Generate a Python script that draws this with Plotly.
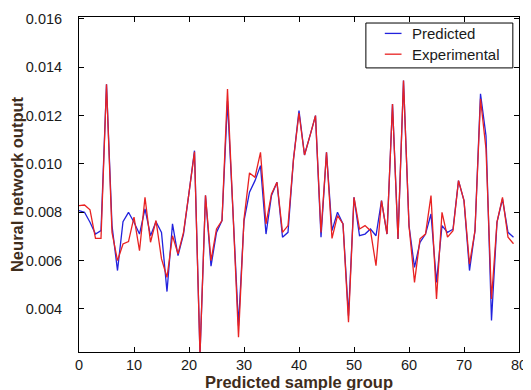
import plotly.graph_objects as go

sample_index = list(range(80))

predicted = [
    0.00807, 0.00800, 0.00759, 0.00710, 0.00724, 0.01330, 0.00745, 0.00559, 0.00761, 0.00800,
    0.00759, 0.00710, 0.00814, 0.00703, 0.00761, 0.00717, 0.00472, 0.00752, 0.00621, 0.00710,
    0.00880, 0.01055, 0.00210, 0.00869, 0.00577, 0.00717, 0.00766, 0.01260, 0.00800, 0.00331,
    0.00765, 0.00883, 0.00931, 0.00993, 0.00710, 0.00870, 0.00924, 0.00697, 0.00717, 0.01020,
    0.01221, 0.01037, 0.01117, 0.01200, 0.00697, 0.01048, 0.00724, 0.00800, 0.00752, 0.00372,
    0.00862, 0.00703, 0.00710, 0.00731, 0.00703, 0.00848, 0.00710, 0.01248, 0.00690, 0.01345,
    0.00745, 0.00572, 0.00676, 0.00710, 0.00793, 0.00510, 0.00745, 0.00717, 0.00730, 0.00931,
    0.00848, 0.00559, 0.00724, 0.01290, 0.01117, 0.00352, 0.00759, 0.00855, 0.00717, 0.00697,
]

experimental = [
    0.00828, 0.00830, 0.00810, 0.00692, 0.00692, 0.01330, 0.00717, 0.00600, 0.00669, 0.00679,
    0.00780, 0.00641, 0.00862, 0.00676, 0.00766, 0.00607, 0.00531, 0.00703, 0.00628, 0.00717,
    0.00880, 0.01050, 0.00210, 0.00870, 0.00600, 0.00731, 0.00766, 0.01310, 0.00800, 0.00283,
    0.00772, 0.00963, 0.00945, 0.01048, 0.00752, 0.00876, 0.00924, 0.00717, 0.00745, 0.01020,
    0.01210, 0.01037, 0.01117, 0.01200, 0.00717, 0.01048, 0.00692, 0.00786, 0.00752, 0.00345,
    0.00862, 0.00731, 0.00745, 0.00724, 0.00579, 0.00848, 0.00710, 0.01248, 0.00690, 0.01345,
    0.00745, 0.00510, 0.00690, 0.00710, 0.00869, 0.00441, 0.00800, 0.00697, 0.00724, 0.00931,
    0.00848, 0.00586, 0.00724, 0.01270, 0.01062, 0.00441, 0.00759, 0.00862, 0.00697, 0.00670,
]

series_names = ["Predicted", "Experimental"]
series_colors = ["#2222dd", "#e82222"]

x_ticks = [0, 10, 20, 30, 40, 50, 60, 70, 80]
y_ticks = [0.004, 0.006, 0.008, 0.010, 0.012, 0.014, 0.016]
y_tick_labels = ["0.004", "0.006", "0.008", "0.010", "0.012", "0.014", "0.016"]

fig = go.Figure()
for name, values, color in zip(series_names, [predicted, experimental], series_colors):
    fig.add_trace(go.Scatter(x=sample_index, y=values, mode="lines", name=name,
                             showlegend=False, line=dict(color=color, width=1.3)))

font_family = "Liberation Sans"
title_color = "#3f2d1c"
text_color = "#1a1a1a"

# legend box drawn in paper coordinates (matplotlib-style legend)
legend_box = dict(x0=0.652, x1=0.986, y0=0.848, y1=0.982)
legend_rows_y = [0.951, 0.889]
legend_line_x = (0.695, 0.733)
legend_text_x = 0.752

shapes = [dict(type="rect", xref="paper", yref="paper", line=dict(color="black", width=1),
               fillcolor="white", layer="above", **legend_box)]
annotations = []
for name, color, ry in zip(series_names, series_colors, legend_rows_y):
    shapes.append(dict(type="line", xref="paper", yref="paper", layer="above",
                       x0=legend_line_x[0], x1=legend_line_x[1], y0=ry, y1=ry,
                       line=dict(color=color, width=1.3)))
    annotations.append(dict(xref="paper", yref="paper", x=legend_text_x, y=ry,
                            xanchor="left", yanchor="middle", text=name, showarrow=False,
                            font=dict(family=font_family, size=15, color=text_color)))

# the page body adds an 8px offset, so the margins compensate for it
fig.update_layout(
    width=531, height=390,
    margin=dict(l=71, r=20, t=9, b=46),
    paper_bgcolor="white", plot_bgcolor="white",
    font=dict(family=font_family, size=14.5, color=text_color),
    shapes=shapes, annotations=annotations,
    xaxis=dict(range=[0, 80], tickvals=x_ticks, ticks="inside", ticklen=5,
               tickcolor="black", showline=True, linecolor="black", linewidth=1,
               mirror="allticks", showgrid=False, zeroline=False, automargin=False,
               title=dict(text="<b>Predicted sample group</b>", standoff=0,
                          font=dict(family=font_family, size=16.5, color=title_color)),
               tickfont=dict(size=14.5)),
    yaxis=dict(range=[0.00222, 0.01608], tickvals=y_ticks, ticktext=y_tick_labels,
               ticks="inside", ticklen=5, tickcolor="black", showline=True,
               linecolor="black", linewidth=1, mirror="allticks", showgrid=False,
               zeroline=False, ticklabelstandoff=13, automargin=False,
               title=dict(text="<b>Neural network output</b>", standoff=0,
                          font=dict(family=font_family, size=16.5, color=title_color)),
               tickfont=dict(size=14.5)),
)

fig.write_html("out.html")
